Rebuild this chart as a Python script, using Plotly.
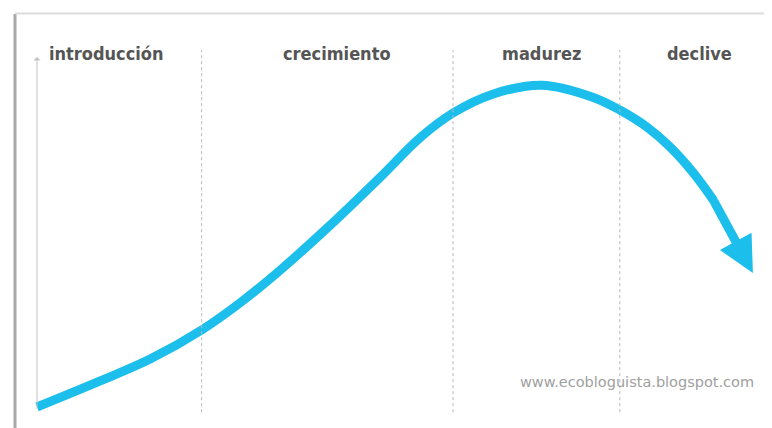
import plotly.graph_objects as go

# product life cycle curve (time vs sales, both on a 0-100 scale)
tiempo = [0, 8.6, 15.4, 22.4, 27.6, 33.1, 39.9, 46.7, 52.1, 56.6, 62.0,
          68.7, 75.6, 79.3, 83.0, 86.1, 89.3, 92.0]
ventas = [4.9, 11.0, 16.1, 22.9, 29.2, 36.9, 47.4, 58.6, 67.8, 73.6, 78.0,
          80.1, 77.3, 74.3, 70.3, 65.7, 59.6, 53.3]
punta_flecha = (97.4, 36.2)

etapas = ["introducción", "crecimiento", "madurez", "declive"]
centro_etapas = [9.4, 40.8, 68.6, 90.2]
limites_etapas = [22.4, 56.6, 79.3]

W, H = 772, 428
OFF = 8  # page body margin
CYAN = "#1cbfec"


def px(p):
    return (p - OFF) / W


def py(p):
    return 1 - (p - OFF) / H


fig = go.Figure()

fig.add_trace(go.Scatter(x=tiempo, y=ventas, mode="lines",
                         line=dict(color=CYAN, width=9, shape="spline", smoothing=1.0),
                         hoverinfo="skip"))
# round joint between the curve and the arrow shaft
fig.add_trace(go.Scatter(x=tiempo[-1:], y=ventas[-1:], mode="markers",
                         marker=dict(color=CYAN, size=9, line=dict(width=0)),
                         hoverinfo="skip"))

# arrow from the last point of the curve to the tip
fig.add_annotation(x=punta_flecha[0], y=punta_flecha[1], xref="x", yref="y",
                   ax=tiempo[-1], ay=ventas[-1], axref="x", ayref="y",
                   showarrow=True, arrowhead=2, arrowsize=0.8, arrowwidth=9,
                   arrowcolor=CYAN, text="")

# stage separators
for xb in limites_etapas:
    fig.add_shape(type="line", x0=xb, x1=xb, y0=3.7, y1=88.3, xref="x", yref="y",
                  line=dict(color="#b8b8b8", width=1, dash="dot"))

# vertical axis with a small arrow
fig.add_annotation(x=0, y=86.7, ax=0, ay=4.2, xref="x", yref="y", axref="x", ayref="y",
                   showarrow=True, arrowhead=1, arrowsize=1.2, arrowwidth=1,
                   arrowcolor="#c4c4c4", text="")

for nombre, xc in zip(etapas, centro_etapas):
    fig.add_annotation(x=xc, y=87.6, xref="x", yref="y", text="<b>%s</b>" % nombre,
                       showarrow=False,
                       font=dict(family="DejaVu Sans Condensed, Liberation Sans Narrow, sans-serif",
                                 size=18, color="#555555"))

fig.add_annotation(x=px(637), y=py(382), xref="paper", yref="paper",
                   xanchor="center", yanchor="middle",
                   text="www.ecobloguista.blogspot.com", showarrow=False,
                   font=dict(family="DejaVu Sans, Verdana, sans-serif", size=14.5, color="#a0a0a0"))

# picture frame
fig.add_shape(type="line", x0=px(15), x1=px(15), y0=py(440), y1=py(14), xref="paper", yref="paper",
              line=dict(color="#a8a8a8", width=3))
fig.add_shape(type="line", x0=px(15), x1=px(790), y0=py(13.5), y1=py(13.5), xref="paper", yref="paper",
              line=dict(color="#dcdcdc", width=2))

# axis ranges chosen so that 7.35 px = 1 time unit and 4.28 px = 1 sales unit
fig.update_layout(
    width=W, height=H,
    margin=dict(l=0, r=0, t=0, b=0),
    paper_bgcolor="white", plot_bgcolor="white",
    showlegend=False,
    xaxis=dict(range=[-(37 - OFF) / 7.35, -(37 - OFF) / 7.35 + W / 7.35], visible=False, fixedrange=True),
    yaxis=dict(range=[(428 - OFF) / 4.28 - H / 4.28, (428 - OFF) / 4.28], visible=False, fixedrange=True),
)

fig.write_html("out.html")
